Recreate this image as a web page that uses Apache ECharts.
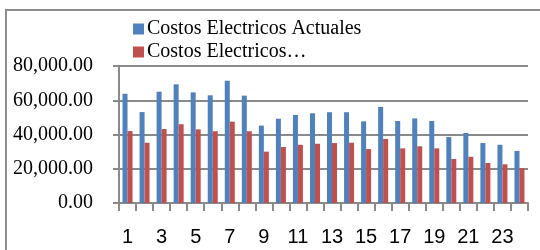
<!DOCTYPE html>
<html>
<head>
<meta charset="utf-8">
<script src="https://cdn.jsdelivr.net/npm/echarts@6/dist/echarts.min.js"></script>
<style>
  html, body { margin: 0; padding: 0; background: #fff; }
  #main { width: 540px; height: 250px; }
</style>
</head>
<body>
<div id="main"></div>
<script>
var horas = ['1','2','3','4','5','6','7','8','9','10','11','12','13','14','15','16','17','18','19','20','21','22','23','24'];
var actuales = [63800, 53100, 65000, 69300, 64600, 62900, 71400, 62700, 45200, 49200, 51400, 52400, 53000, 53000, 47700, 56100, 47900, 49400, 47900, 38500, 40900, 35000, 34000, 30400];
var propuestos = [42000, 35200, 43200, 46000, 43000, 41900, 47500, 41900, 30000, 32700, 34000, 34600, 35000, 35200, 31500, 37400, 31900, 33100, 31900, 25700, 27000, 23400, 22600, 20300];
var yMax = 80000;
var yStep = 20000;

var myChart = echarts.init(document.getElementById('main'));
var gris = '#8a8a8a';
var option = {
    animation: false,
    graphic: [{
        type: 'rect',
        shape: { x: 6, y: 10, width: 545, height: 260 },
        style: { fill: 'none', stroke: '#8c8c8c', lineWidth: 2 }
    }],
    legend: {
        left: 128,
        top: 14,
        orient: 'vertical',
        icon: 'rect',
        itemWidth: 11,
        itemHeight: 11,
        itemGap: 3,
        textStyle: { fontFamily: 'Liberation Serif', fontSize: 20, color: '#000', padding: [0, 0, 0, -2] },
        data: ['Costos Electricos Actuales', 'Costos Electricos…']
    },
    grid: { left: 119, right: 12, top: 66, bottom: 47 },
    xAxis: {
        type: 'category',
        data: horas,
        axisLine: { lineStyle: { color: gris, width: 2 } },
        axisTick: { show: true, interval: 0, length: 8, lineStyle: { color: gris, width: 2 } },
        axisLabel: { interval: 1, margin: 24, fontFamily: 'Liberation Sans', fontSize: 20, color: '#000' }
    },
    yAxis: {
        type: 'value',
        min: 0,
        max: yMax,
        interval: yStep,
        axisLine: { show: true, lineStyle: { color: gris, width: 2 } },
        axisTick: { show: true, length: 6, lineStyle: { color: gris, width: 2 } },
        splitLine: { lineStyle: { color: gris, width: 2 } },
        axisLabel: {
            margin: 26,
            fontFamily: 'Liberation Serif', fontSize: 20, color: '#000',
            formatter: function (v) {
                return v.toLocaleString('en-US', { minimumFractionDigits: 2, maximumFractionDigits: 2 });
            }
        }
    },
    series: [
        { name: 'Costos Electricos Actuales', type: 'bar', data: actuales, barWidth: 5, barGap: '0%', itemStyle: { color: '#4F81BD' } },
        { name: 'Costos Electricos…', type: 'bar', data: propuestos, barWidth: 5, barGap: '0%', itemStyle: { color: '#C0504D' } }
    ]
};
myChart.setOption(option);
</script>
</body>
</html>
